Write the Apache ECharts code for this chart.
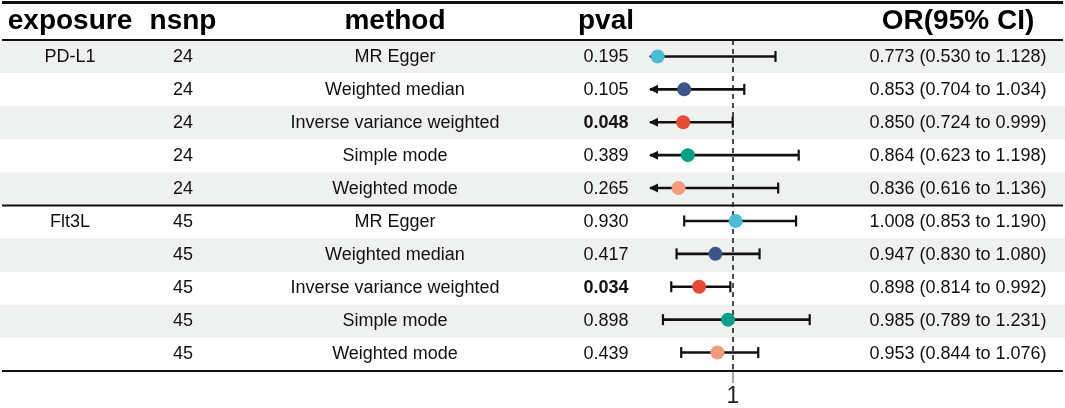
<!DOCTYPE html>
<html>
<head>
<meta charset="utf-8">
<script src="https://cdn.jsdelivr.net/npm/echarts@6/dist/echarts.min.js"></script>
<style>html,body{margin:0;padding:0;background:#fff;}#c{width:1065px;height:408px;}</style>
</head>
<body>
<div id="c"></div>
<script>
const exposure = ['PD-L1','PD-L1','PD-L1','PD-L1','PD-L1','Flt3L','Flt3L','Flt3L','Flt3L','Flt3L'];
const nsnp = [24,24,24,24,24,45,45,45,45,45];
const methods = ['MR Egger','Weighted median','Inverse variance weighted','Simple mode','Weighted mode',
                 'MR Egger','Weighted median','Inverse variance weighted','Simple mode','Weighted mode'];
const pval = ['0.195','0.105','0.048','0.389','0.265','0.930','0.417','0.034','0.898','0.439'];
const orEst = [0.773,0.853,0.850,0.864,0.836,1.008,0.947,0.898,0.985,0.953];
const orLow = [0.530,0.704,0.724,0.623,0.616,0.853,0.830,0.814,0.789,0.844];
const orUp  = [1.128,1.034,0.999,1.198,1.136,1.190,1.080,0.992,1.231,1.076];
const headers = ['exposure','nsnp','method','pval','OR(95% CI)'];
const xTicks = [1];

const methodColor = {
  'MR Egger':'#4DBBD5','Weighted median':'#3C5488','Inverse variance weighted':'#E64B35',
  'Simple mode':'#00A087','Weighted mode':'#F39B7F'
};
const colX = [70, 183, 395, 606, 958];
const FONT = '"Liberation Sans", Arial, sans-serif';
const XMIN = 0.75, XMAX = 1.25;
const TOP = 40, BOTTOM = 37, W = 1065;

const rowIdx = methods.map((_, i) => i);
const rowCats = rowIdx.map(i => 'r' + i);
const fmt = v => v.toFixed(3);

const chart = echarts.init(document.getElementById('c'), null, {renderer:'canvas'});

function tableItem(params, api) {
  const i = params.dataIndex;
  const yc = api.coord([0, i])[1];
  const h = api.size([0, 1])[1];
  const ch = [];
  if (i % 2 === 0) {
    ch.push({type:'rect', shape:{x:0, y:yc - h/2, width:W, height:h}, style:{fill:'#eef1f0'}, z2:0});
  }
  if (i > 0 && exposure[i] !== exposure[i-1]) {
    ch.push({type:'line', shape:{x1:2, y1:yc - h/2, x2:W - 2, y2:yc - h/2}, style:{stroke:'#111', lineWidth:2}, z2:5});
  }
  const showExp = (i === 0 || exposure[i] !== exposure[i-1]) ? exposure[i] : '';
  const lowP = parseFloat(pval[i]) < 0.05;
  const cells = [showExp, String(nsnp[i]), methods[i], pval[i],
                 fmt(orEst[i]) + ' (' + fmt(orLow[i]) + ' to ' + fmt(orUp[i]) + ')'];
  cells.forEach((t, k) => {
    ch.push({type:'text', z2:3, style:{
      text:t, x:colX[k], y:yc, align:'center', verticalAlign:'middle',
      fontFamily:FONT, fontSize:18, fontWeight:(k === 3 && lowP) ? 'bold' : 'normal', fill:'#111'
    }});
  });
  return {type:'group', children:ch};
}

function forestItem(params, api) {
  const i = params.dataIndex;
  const est = orEst[i], lo = orLow[i], hi = orUp[i];
  const y = api.coord([1, i])[1];
  const xl = api.coord([Math.max(lo, XMIN), i])[0];
  const xr = api.coord([Math.min(hi, XMAX), i])[0];
  const xp = api.coord([est, i])[0];
  const ch = [];
  if (i === 0) {
    const cs = params.coordSys;
    const x1 = api.coord([1, i])[0];
    ch.push({type:'line', shape:{x1:x1, y1:cs.y, x2:x1, y2:cs.y + cs.height},
      style:{stroke:'#111', lineWidth:1.5, lineDash:[5,4]}, z2:1});
  }
  ch.push({type:'line', shape:{x1:xl, y1:y, x2:xr, y2:y}, style:{stroke:'#111', lineWidth:2.6}, z2:5});
  if (lo < XMIN) {
    ch.push({type:'polygon', shape:{points:[[xl - 1, y],[xl + 8, y - 4.5],[xl + 8, y + 4.5]]}, style:{fill:'#111'}, z2:5});
  } else {
    ch.push({type:'line', shape:{x1:xl, y1:y - 5.5, x2:xl, y2:y + 5.5}, style:{stroke:'#111', lineWidth:2.2}, z2:5});
  }
  if (hi > XMAX) {
    ch.push({type:'polygon', shape:{points:[[xr + 1, y],[xr - 8, y - 4.5],[xr - 8, y + 4.5]]}, style:{fill:'#111'}, z2:5});
  } else {
    ch.push({type:'line', shape:{x1:xr, y1:y - 5.5, x2:xr, y2:y + 5.5}, style:{stroke:'#111', lineWidth:2.2}, z2:5});
  }
  ch.push({type:'circle', shape:{cx:xp, cy:y, r:7}, style:{fill:methodColor[methods[i]]}, z2:10});
  return {type:'group', children:ch};
}

const graphics = [
  {type:'line', shape:{x1:2, y1:2.5, x2:W - 2, y2:2.5}, style:{stroke:'#111', lineWidth:3}, z:20},
  {type:'line', shape:{x1:2, y1:TOP, x2:W - 2, y2:TOP}, style:{stroke:'#111', lineWidth:2.2}, z:20},
  {type:'line', shape:{x1:2, y1:408 - BOTTOM, x2:W - 2, y2:408 - BOTTOM}, style:{stroke:'#111', lineWidth:2.2}, z:20}
];
headers.forEach((h, k) => {
  graphics.push({type:'text', z:20, style:{text:h, x:colX[k], y:21, align:'center', verticalAlign:'middle',
    fontFamily:FONT, fontSize:28, fontWeight:'bold', fill:'#000'}});
});

const option = {
  animation:false,
  backgroundColor:'#fff',
  grid:[
    {left:0, right:0, top:TOP, bottom:BOTTOM},
    {left:650, width:166, top:TOP, bottom:BOTTOM}
  ],
  xAxis:[
    {gridIndex:0, type:'value', min:0, max:W, show:false},
    {gridIndex:1, type:'value', min:XMIN, max:XMAX, position:'bottom',
     axisLine:{show:false}, splitLine:{show:false},
     axisTick:{show:true, customValues:xTicks, length:14, inside:false, lineStyle:{color:'#888', width:1.5}},
     axisLabel:{show:true, customValues:xTicks, formatter:v => String(v), margin:16,
       fontFamily:FONT, fontSize:23, color:'#222'}}
  ],
  yAxis:[
    {gridIndex:0, type:'category', data:rowCats, inverse:true, show:false},
    {gridIndex:1, type:'category', data:rowCats, inverse:true, show:false}
  ],
  series:[
    {type:'custom', xAxisIndex:0, yAxisIndex:0, z:1, renderItem:tableItem,
     data:rowIdx.map(i => [0, i])},
    {type:'custom', xAxisIndex:1, yAxisIndex:1, z:5, renderItem:forestItem,
     data:rowIdx.map(i => [orEst[i], i])}
  ],
  graphic:graphics
};
chart.setOption(option);
</script>
</body>
</html>
